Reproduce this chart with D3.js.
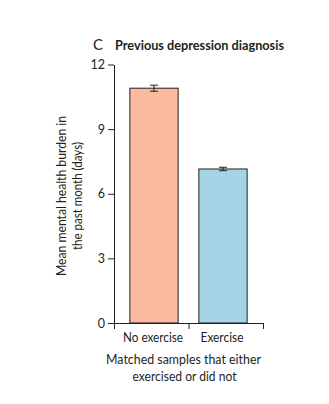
<!DOCTYPE html>
<html><head><meta charset="utf-8">
<script src="https://cdn.jsdelivr.net/npm/d3@7"></script>
<style>
html,body{margin:0;padding:0;background:#fff;}
text{font-family:Lato,"Open Sans",sans-serif;fill:#231f20;}
</style></head>
<body><svg id="c" width="329" height="404"></svg>
<script>
const categories = ["No exercise", "Exercise"];
const means = [10.9, 7.15];
const errLow = [10.76, 7.07];
const errHigh = [11.04, 7.23];
const yTicks = [0, 3, 6, 9, 12];
const colors = ["#F9BA9E", "#A4D4E6"];

const svg = d3.select("#c");
const plotLeft = 114, plotRight = 263, plotTop = 64.5, plotBottom = 323;

const x = d3.scaleBand().domain(categories).range([plotLeft, plotRight]).paddingInner(0.3).paddingOuter(0.23);
const y = d3.scaleLinear().domain([0, 12]).range([plotBottom, plotTop]);

// bars
svg.selectAll("rect.bar").data(categories).join("rect")
  .attr("x", d => x(d)).attr("width", x.bandwidth())
  .attr("y", (d,i) => y(means[i])).attr("height", (d,i) => y(0) - y(means[i]))
  .attr("fill", (d,i) => colors[i]).attr("stroke", "#231f20").attr("stroke-width", 1);

// error bars
const eg = svg.selectAll("g.err").data(categories).join("g").attr("stroke", "#231f20").attr("stroke-width", 1);
eg.append("line").attr("x1", d => x(d) + x.bandwidth()/2).attr("x2", d => x(d) + x.bandwidth()/2)
  .attr("y1", (d,i) => y(errLow[i])).attr("y2", (d,i) => y(errHigh[i]));
eg.append("line").attr("x1", d => x(d) + x.bandwidth()/2 - 4).attr("x2", d => x(d) + x.bandwidth()/2 + 4)
  .attr("y1", (d,i) => y(errLow[i])).attr("y2", (d,i) => y(errLow[i]));
eg.append("line").attr("x1", d => x(d) + x.bandwidth()/2 - 4).attr("x2", d => x(d) + x.bandwidth()/2 + 4)
  .attr("y1", (d,i) => y(errHigh[i])).attr("y2", (d,i) => y(errHigh[i]));

// y axis
const ya = svg.append("g").attr("transform", `translate(${plotLeft},0)`)
  .call(d3.axisLeft(y).tickValues(yTicks).tickSize(6).tickPadding(3).tickSizeOuter(0));
ya.attr("font-size", null).attr("font-family", null);
ya.select(".domain").attr("stroke", "#231f20");
ya.selectAll(".tick line").attr("stroke", "#231f20");
ya.selectAll(".tick text").style("font-size", "12.5px").attr("fill", "#231f20");

// x axis with separator ticks
const sepScale = d3.scaleLinear().domain([0, categories.length]).range([plotLeft, plotRight]);
const xa = svg.append("g").attr("transform", `translate(0,${plotBottom})`)
  .call(d3.axisBottom(sepScale).tickValues(d3.range(0, categories.length + 1)).tickSize(6).tickFormat("").tickSizeOuter(0));
xa.select(".domain").attr("stroke", "#231f20");
xa.selectAll(".tick line").attr("stroke", "#231f20");

// category labels
const catWidths = [60, 43];
svg.selectAll("text.cat").data(categories).join("text")
  .attr("x", d => x(d) + x.bandwidth()/2 - 1).attr("y", 342)
  .attr("text-anchor", "middle").style("font-size", "12.5px")
  .attr("textLength", (d,i) => catWidths[i]).attr("lengthAdjust", "spacingAndGlyphs").text(d => d);

// x title
svg.append("text").attr("x", 183.5).attr("y", 364).attr("text-anchor", "middle").style("font-size", "13px")
  .attr("textLength", 155).attr("lengthAdjust", "spacingAndGlyphs").text("Matched samples that either");
svg.append("text").attr("x", 184.5).attr("y", 381).attr("text-anchor", "middle").style("font-size", "13px")
  .attr("textLength", 104).attr("lengthAdjust", "spacingAndGlyphs").text("exercised or did not");

// y title
const yt = svg.append("g").attr("transform", "translate(0,196) rotate(-90)");
yt.append("text").attr("x", 0).attr("y", 66).attr("text-anchor", "middle").style("font-size", "13px")
  .attr("textLength", 160).attr("lengthAdjust", "spacingAndGlyphs").text("Mean mental health burden in");
yt.append("text").attr("x", 0).attr("y", 82).attr("text-anchor", "middle").style("font-size", "13px")
  .attr("textLength", 108).attr("lengthAdjust", "spacingAndGlyphs").text("the past month (days)");

// title
svg.append("text").attr("x", 93).attr("y", 50).style("font-size", "15px").text("C");
svg.append("text").attr("x", 115).attr("y", 50).style("font-size", "13px").attr("font-weight", "bold")
  .attr("textLength", 169).attr("lengthAdjust", "spacingAndGlyphs").text("Previous depression diagnosis");
</script></body></html>
